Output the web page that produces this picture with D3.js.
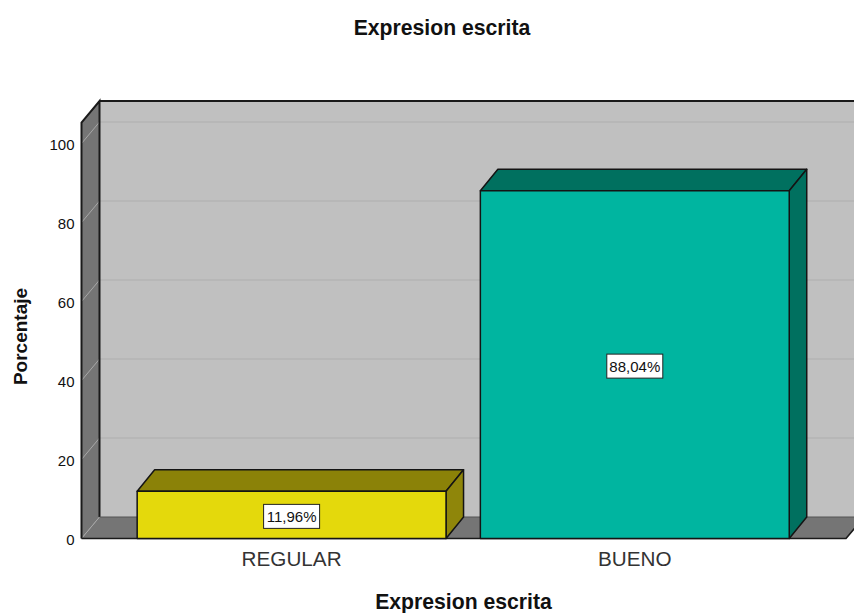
<!DOCTYPE html>
<html><head><meta charset="utf-8">
<script src="https://cdn.jsdelivr.net/npm/d3@7"></script>
<style>html,body{margin:0;padding:0;background:#fff;overflow:hidden}svg{display:block}text{font-family:"Liberation Sans",Arial,sans-serif}</style>
</head><body><svg id="c" width="854" height="613"></svg>
<script>
const categories = ["REGULAR","BUENO"];
const values = [11.96,88.04];
const valueLabels = ["11,96%","88,04%"];
const tickValues = [0,20,40,60,80,100];
const chartTitle = "Expresion escrita";
const yTitle = "Porcentaje";
const frontColors = ["#e4d90c","#00b5a0"];
const topColors = ["#8b8208","#00705f"];
const sideColors = ["#8f860a","#00705f"];

const W=854,H=613,y0=538.5,y100=143.5,dx=18,dy=-21.5,maxV=105.3;
const svg=d3.select("#c");
const y=d3.scaleLinear().domain([0,100]).range([y0,y100]);
const x=d3.scaleBand().domain(categories).range([120,806.4]).paddingInner(0.1).paddingOuter(0.05);
const line=d3.line();
const dark="#1a1a1a";
const poly=(pts,fill,stroke,sw)=>svg.append("path").attr("d",line(pts)+"Z").attr("fill",fill).attr("stroke",stroke||"none").attr("stroke-width",sw||0).attr("stroke-linejoin","round");
const xL=81.5,xR=846;
const wallTop=y(maxV);

// back wall
poly([[xL+dx,wallTop+dy],[W+10,wallTop+dy],[W+10,y0+dy],[xL+dx,y0+dy]],"#c0c0c0");
// left wall
poly([[xL,wallTop],[xL+dx,wallTop+dy],[xL+dx,y0+dy],[xL,y0]],"#757575");
// floor
poly([[xL,y0],[xL+dx,y0+dy],[W+10,y0+dy],[xR+dx,y0+dy],[xR,y0]],"#757575");
// gridlines
svg.append("g").selectAll("line").data(tickValues.slice(1)).join("line")
 .attr("x1",xL+dx).attr("x2",W).attr("y1",d=>y(d)+dy).attr("y2",d=>y(d)+dy)
 .attr("stroke","#b5b5b5").attr("stroke-width",1.6);
svg.append("g").selectAll("line").data(tickValues).join("line")
 .attr("x1",xL).attr("x2",xL+dx).attr("y1",d=>y(d)).attr("y2",d=>y(d)+dy)
 .attr("stroke","#a8a8a8").attr("stroke-width",1);
// wall outlines
svg.append("path").attr("d",line([[xL,y0],[xL,wallTop],[xL+dx,wallTop+dy],[xL+dx,y0+dy]])).attr("fill","none").attr("stroke",dark).attr("stroke-width",2);
svg.append("line").attr("x1",xL+dx).attr("x2",W).attr("y1",wallTop+dy).attr("y2",wallTop+dy).attr("stroke",dark).attr("stroke-width",2);
svg.append("line").attr("x1",xL+dx).attr("x2",W).attr("y1",y0+dy).attr("y2",y0+dy).attr("stroke","#555").attr("stroke-width",1);
svg.append("path").attr("d",line([[xL,y0],[xR,y0],[xR+dx,y0+dy]])).attr("fill","none").attr("stroke",dark).attr("stroke-width",1.6);

// bars
categories.forEach((c,i)=>{
 const a=x(c), b=a+x.bandwidth(), t=y(values[i]);
 const ddx=17.5;
 poly([[a,t],[a+ddx,t+dy],[b+ddx,t+dy],[b,t]],topColors[i],"#141414",1.5);
 poly([[b,t],[b+ddx,t+dy],[b+ddx,y0+dy],[b,y0]],sideColors[i],"#141414",1.5);
 poly([[a,t],[b,t],[b,y0],[a,y0]],frontColors[i],"#141414",1.5);
 const cx=(a+b)/2, cy=(t+y0)/2+1.5;
 svg.append("rect").attr("x",cx-28).attr("y",cy-12).attr("width",56).attr("height",24).attr("fill","#fff").attr("stroke","#222").attr("stroke-width",1);
 svg.append("text").attr("x",cx).attr("y",cy+5.5).attr("text-anchor","middle").attr("font-size",15).attr("fill","#111").text(valueLabels[i]);
 svg.append("text").attr("x",cx).attr("y",566).attr("text-anchor","middle").attr("font-size",20.7).attr("fill","#333").text(c);
});

// y axis
const ax=svg.append("g").attr("transform",`translate(${xL-1},0)`).call(d3.axisLeft(y).tickValues(tickValues).tickSize(0).tickPadding(6));
ax.select(".domain").remove();
ax.selectAll("text").attr("font-size",15).attr("fill","#111").style("font-family",'"Liberation Sans",Arial,sans-serif').attr("dy","0.4em");

// titles
svg.append("text").attr("x",442).attr("y",35).attr("text-anchor","middle").attr("font-size",21.2).attr("font-weight","bold").attr("fill","#111").text(chartTitle);
svg.append("text").attr("x",463.5).attr("y",609).attr("text-anchor","middle").attr("font-size",21.2).attr("font-weight","bold").attr("fill","#111").text(chartTitle);
svg.append("text").attr("transform","translate(27,336.5) rotate(-90)").attr("text-anchor","middle").attr("font-size",19).attr("font-weight","bold").attr("fill","#111").text(yTitle);
</script></body></html>
